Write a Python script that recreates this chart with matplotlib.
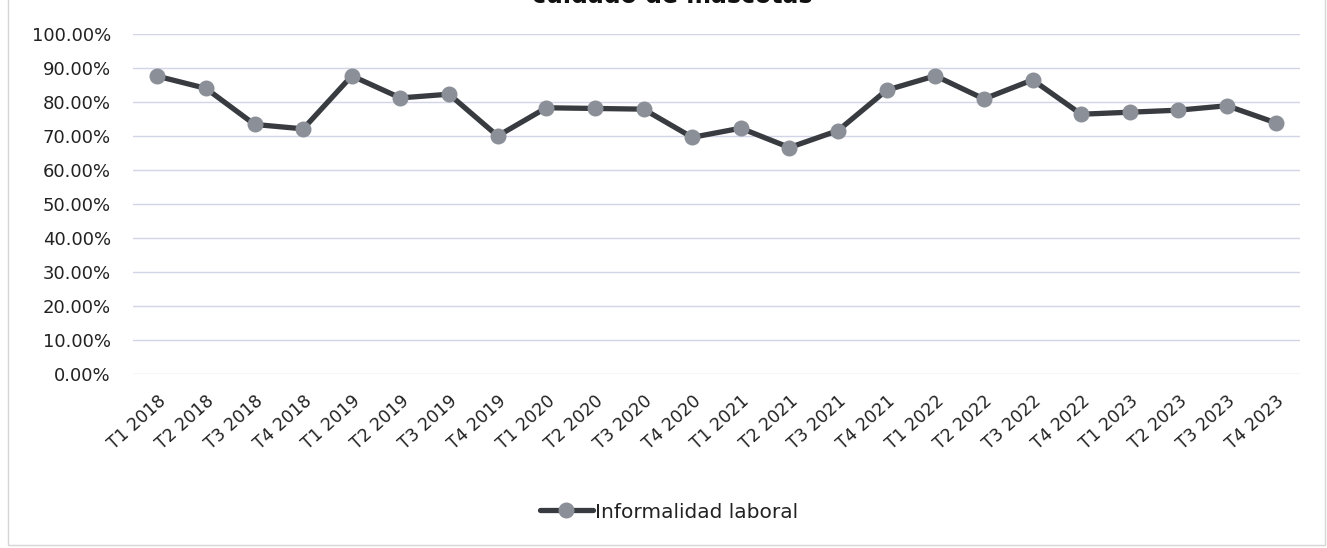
import matplotlib
matplotlib.use("Agg")
import matplotlib.pyplot as plt
from matplotlib.patches import Rectangle
from matplotlib.ticker import FuncFormatter, MultipleLocator

categories = ["T1 2018", "T2 2018", "T3 2018", "T4 2018",
              "T1 2019", "T2 2019", "T3 2019", "T4 2019",
              "T1 2020", "T2 2020", "T3 2020", "T4 2020",
              "T1 2021", "T2 2021", "T3 2021", "T4 2021",
              "T1 2022", "T2 2022", "T3 2022", "T4 2022",
              "T1 2023", "T2 2023", "T3 2023", "T4 2023"]
informalidad = [87.6, 84.0, 73.4, 72.1,
                87.7, 81.2, 82.3, 70.0,
                78.3, 78.1, 77.9, 69.6,
                72.3, 66.6, 71.6, 83.5,
                87.7, 80.9, 86.5, 76.4,
                77.0, 77.6, 78.9, 73.9]
series_name = "Informalidad laboral"
title_text = "cuidado de mascotas"

plt.rcParams['font.family'] = ['DejaVu Sans']
W, H = 1327, 548
fig = plt.figure(figsize=(W / 100, H / 100), dpi=100)
fig.patch.set_facecolor("white")

# outer chart frame
fig.patches.append(Rectangle((8 / W, 1 - 545 / H), (1325 - 8) / W, 1.2,
                             transform=fig.transFigure, fill=False,
                             edgecolor="#d6d6d6", linewidth=1.0))

ax = fig.add_axes([133 / W, 1 - 374 / H, (1300 - 133) / W, (374 - 34) / H])
x = list(range(len(categories)))
ax.plot(x, informalidad, color="#383b40", linewidth=3.8, marker="o",
        markersize=10.5, markerfacecolor="#8b8f98", markeredgecolor="#8b8f98",
        label=series_name, zorder=3, solid_capstyle="round")

ax.set_xlim(-0.5, len(categories) - 0.5)
ax.set_ylim(0, 100)
ax.yaxis.set_major_locator(MultipleLocator(10))
ax.yaxis.set_major_formatter(FuncFormatter(lambda v, p: f"{v:.2f}%"))
ax.grid(axis="y", color="#d2d5e6", linewidth=1.0)
ax.set_axisbelow(True)
for s in ax.spines.values():
    s.set_visible(False)
ax.tick_params(axis="both", length=0, colors="#222222")
ax.tick_params(axis="y", labelsize=13, pad=16)
ax.set_xticks(x)
ax.set_xticklabels(categories, rotation=42, ha="right", rotation_mode="anchor",
                   fontsize=12.5)
ax.tick_params(axis="x", pad=13)

leg = fig.legend(loc="center", bbox_to_anchor=(669 / W, 1 - 512 / H),
                 frameon=False, fontsize=14.5, handlelength=2.6,
                 handletextpad=0.1)
for t in leg.get_texts():
    t.set_color("#222222")

fig.text(672 / W, 1 + 4 / H, title_text, ha="center", va="center",
         fontsize=17, fontweight="bold", color="#111111")

fig.savefig("out.png", dpi=100, facecolor="white")
